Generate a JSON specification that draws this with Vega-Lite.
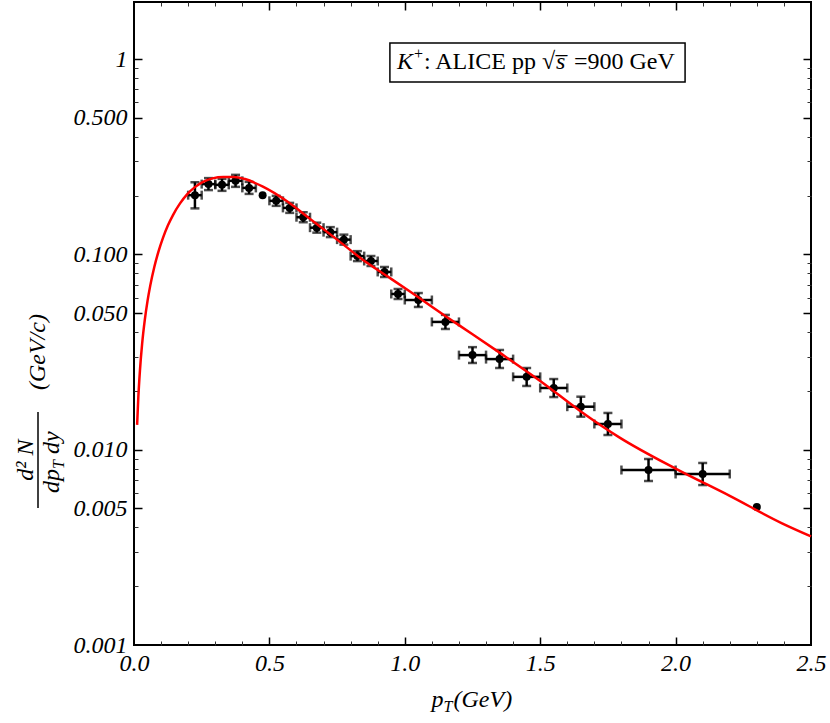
{
  "$schema": "https://vega.github.io/schema/vega-lite/v6.json",
  "width": 677,
  "height": 643,
  "autosize": {"type": "none"},
  "padding": {"left": 134, "top": 2, "right": 19, "bottom": 78},
  "background": "white",
  "config": {
    "view": {"stroke": "black", "strokeWidth": 2},
    "axis": {"grid": false, "domain": false, "title": null}
  },
  "datasets": {
    "pts": [
      {"x": 0.225, "y": 0.201}, {"x": 0.275, "y": 0.229}, {"x": 0.325, "y": 0.227}, {"x": 0.375, "y": 0.238},
      {"x": 0.425, "y": 0.219}, {"x": 0.475, "y": 0.201}, {"x": 0.525, "y": 0.188}, {"x": 0.575, "y": 0.173},
      {"x": 0.625, "y": 0.155}, {"x": 0.675, "y": 0.137}, {"x": 0.725, "y": 0.130}, {"x": 0.775, "y": 0.119},
      {"x": 0.825, "y": 0.098}, {"x": 0.875, "y": 0.0925}, {"x": 0.925, "y": 0.0813}, {"x": 0.975, "y": 0.0627},
      {"x": 1.05, "y": 0.0584}, {"x": 1.15, "y": 0.0451}, {"x": 1.25, "y": 0.0305}, {"x": 1.35, "y": 0.0291},
      {"x": 1.45, "y": 0.0236}, {"x": 1.55, "y": 0.0207}, {"x": 1.65, "y": 0.0166}, {"x": 1.75, "y": 0.01354},
      {"x": 1.9, "y": 0.00787}, {"x": 2.1, "y": 0.00751}, {"x": 2.3, "y": 0.00509}
    ],
    "eb": [
      {"x": 0.225, "y": 0.201, "xlo": 0.2, "xhi": 0.25, "ylo": 0.172, "yhi": 0.234},
      {"x": 0.275, "y": 0.229, "xlo": 0.25, "xhi": 0.3, "ylo": 0.2134, "yhi": 0.2458},
      {"x": 0.325, "y": 0.227, "xlo": 0.3, "xhi": 0.35, "ylo": 0.2115, "yhi": 0.2436},
      {"x": 0.375, "y": 0.238, "xlo": 0.35, "xhi": 0.4, "ylo": 0.2217, "yhi": 0.2554},
      {"x": 0.425, "y": 0.219, "xlo": 0.4, "xhi": 0.45, "ylo": 0.204, "yhi": 0.2351},
      {"x": 0.525, "y": 0.188, "xlo": 0.5, "xhi": 0.55, "ylo": 0.1772, "yhi": 0.1994},
      {"x": 0.575, "y": 0.173, "xlo": 0.55, "xhi": 0.6, "ylo": 0.1631, "yhi": 0.1835},
      {"x": 0.625, "y": 0.155, "xlo": 0.6, "xhi": 0.65, "ylo": 0.1461, "yhi": 0.1644},
      {"x": 0.675, "y": 0.137, "xlo": 0.65, "xhi": 0.7, "ylo": 0.1292, "yhi": 0.1453},
      {"x": 0.725, "y": 0.130, "xlo": 0.7, "xhi": 0.75, "ylo": 0.1226, "yhi": 0.1379},
      {"x": 0.775, "y": 0.119, "xlo": 0.75, "xhi": 0.8, "ylo": 0.1122, "yhi": 0.1262},
      {"x": 0.825, "y": 0.098, "xlo": 0.8, "xhi": 0.85, "ylo": 0.0924, "yhi": 0.1039},
      {"x": 0.875, "y": 0.0925, "xlo": 0.85, "xhi": 0.9, "ylo": 0.0872, "yhi": 0.0981},
      {"x": 0.925, "y": 0.0813, "xlo": 0.9, "xhi": 0.95, "ylo": 0.0766, "yhi": 0.0862},
      {"x": 0.975, "y": 0.0627, "xlo": 0.95, "xhi": 1.0, "ylo": 0.0591, "yhi": 0.0665},
      {"x": 1.05, "y": 0.0584, "xlo": 1.0, "xhi": 1.1, "ylo": 0.0538, "yhi": 0.0634},
      {"x": 1.15, "y": 0.0451, "xlo": 1.1, "xhi": 1.2, "ylo": 0.0415, "yhi": 0.049},
      {"x": 1.25, "y": 0.0305, "xlo": 1.2, "xhi": 1.3, "ylo": 0.0278, "yhi": 0.0335},
      {"x": 1.35, "y": 0.0291, "xlo": 1.3, "xhi": 1.4, "ylo": 0.0262, "yhi": 0.0324},
      {"x": 1.45, "y": 0.0236, "xlo": 1.4, "xhi": 1.5, "ylo": 0.0212, "yhi": 0.0262},
      {"x": 1.55, "y": 0.0207, "xlo": 1.5, "xhi": 1.6, "ylo": 0.0186, "yhi": 0.023},
      {"x": 1.65, "y": 0.0166, "xlo": 1.6, "xhi": 1.7, "ylo": 0.01476, "yhi": 0.01868},
      {"x": 1.75, "y": 0.01354, "xlo": 1.7, "xhi": 1.8, "ylo": 0.01189, "yhi": 0.01542},
      {"x": 1.9, "y": 0.00787, "xlo": 1.8, "xhi": 2.0, "ylo": 0.00691, "yhi": 0.00896},
      {"x": 2.1, "y": 0.00751, "xlo": 2.0, "xhi": 2.2, "ylo": 0.00659, "yhi": 0.00855}
    ],
    "curve": [
      {"x": 0.0115, "y": 0.0134}, {"x": 0.016, "y": 0.0186}, {"x": 0.022, "y": 0.0255}, {"x": 0.03, "y": 0.0348},
      {"x": 0.04, "y": 0.0463}, {"x": 0.05, "y": 0.0578}, {"x": 0.06, "y": 0.0692}, {"x": 0.075, "y": 0.0862},
      {"x": 0.09, "y": 0.103}, {"x": 0.107, "y": 0.1215}, {"x": 0.125, "y": 0.1405}, {"x": 0.144, "y": 0.159},
      {"x": 0.17, "y": 0.1825}, {"x": 0.196, "y": 0.203}, {"x": 0.225, "y": 0.221}, {"x": 0.255, "y": 0.235},
      {"x": 0.29, "y": 0.245}, {"x": 0.33, "y": 0.249}, {"x": 0.37, "y": 0.249}, {"x": 0.41, "y": 0.243},
      {"x": 0.476, "y": 0.222}, {"x": 0.565, "y": 0.187}, {"x": 0.65, "y": 0.152}, {"x": 0.75, "y": 0.119},
      {"x": 0.846, "y": 0.0936}, {"x": 0.945, "y": 0.0757}, {"x": 1.019, "y": 0.0645}, {"x": 1.148, "y": 0.0485},
      {"x": 1.25, "y": 0.039}, {"x": 1.35, "y": 0.0314}, {"x": 1.5, "y": 0.0225}, {"x": 1.65, "y": 0.0157},
      {"x": 1.795, "y": 0.0115}, {"x": 2.0, "y": 0.008}, {"x": 2.2, "y": 0.0058}, {"x": 2.393, "y": 0.0042},
      {"x": 2.5, "y": 0.0036}
    ]
  },
  "resolve": {"axis": {"x": "independent", "y": "independent"}},
  "layer": [
    {
      "data": {"name": "eb"},
      "mark": {"type": "rule", "color": "black", "strokeWidth": 2.5},
      "encoding": {
        "x": {"field": "x", "type": "quantitative", "scale": {"domain": [0, 2.5], "nice": false, "zero": false},
              "axis": {"orient": "bottom", "values": [0.5, 1, 1.5, 2], "labels": false, "tickSize": -8, "tickWidth": 1.5, "tickColor": "black"}},
        "y": {"field": "ylo", "type": "quantitative", "scale": {"type": "log", "domain": [0.001, 1.96], "nice": false},
              "axis": {"orient": "left", "values": [0.005, 0.01, 0.05, 0.1, 0.5, 1], "labels": false, "tickSize": -8, "tickWidth": 1.5, "tickColor": "black"}},
        "y2": {"field": "yhi"}
      }
    },
    {
      "data": {"name": "eb"},
      "mark": {"type": "tick", "orient": "horizontal", "color": "black", "size": 9, "thickness": 2.5},
      "encoding": {
        "x": {"field": "x", "type": "quantitative", "scale": {"domain": [0, 2.5], "nice": false, "zero": false},
              "axis": {"orient": "bottom", "values": [0.1, 0.2, 0.3, 0.4, 0.6, 0.7, 0.8, 0.9, 1.1, 1.2, 1.3, 1.4, 1.6, 1.7, 1.8, 1.9, 2.1, 2.2, 2.3, 2.4], "labels": false, "tickSize": -4, "tickWidth": 1, "tickColor": "#333"}},
        "y": {"field": "ylo", "type": "quantitative", "scale": {"type": "log", "domain": [0.001, 1.96], "nice": false},
              "axis": {"orient": "left", "values": [0.002, 0.003, 0.004, 0.006, 0.007, 0.008, 0.009, 0.02, 0.03, 0.04, 0.06, 0.07, 0.08, 0.09, 0.2, 0.3, 0.4, 0.6, 0.7, 0.8, 0.9], "labels": false, "tickSize": -4, "tickWidth": 1, "tickColor": "#333"}}
      }
    },
    {
      "data": {"name": "eb"},
      "mark": {"type": "tick", "orient": "horizontal", "color": "black", "size": 9, "thickness": 2.5},
      "encoding": {
        "x": {"field": "x", "type": "quantitative", "scale": {"domain": [0, 2.5], "nice": false, "zero": false},
              "axis": {"orient": "top", "values": [0.5, 1, 1.5, 2], "labels": false, "tickSize": -8, "tickWidth": 1.5, "tickColor": "black"}},
        "y": {"field": "yhi", "type": "quantitative", "scale": {"type": "log", "domain": [0.001, 1.96], "nice": false},
              "axis": {"orient": "right", "values": [0.005, 0.01, 0.05, 0.1, 0.5, 1], "labels": false, "tickSize": -8, "tickWidth": 1.5, "tickColor": "black"}}
      }
    },
    {
      "data": {"name": "eb"},
      "mark": {"type": "rule", "color": "black", "strokeWidth": 2.5},
      "encoding": {
        "x": {"field": "xlo", "type": "quantitative", "scale": {"domain": [0, 2.5], "nice": false, "zero": false},
              "axis": {"orient": "top", "values": [0.1, 0.2, 0.3, 0.4, 0.6, 0.7, 0.8, 0.9, 1.1, 1.2, 1.3, 1.4, 1.6, 1.7, 1.8, 1.9, 2.1, 2.2, 2.3, 2.4], "labels": false, "tickSize": -4, "tickWidth": 1, "tickColor": "#333"}},
        "x2": {"field": "xhi"},
        "y": {"field": "y", "type": "quantitative", "scale": {"type": "log", "domain": [0.001, 1.96], "nice": false},
              "axis": {"orient": "right", "values": [0.002, 0.003, 0.004, 0.006, 0.007, 0.008, 0.009, 0.02, 0.03, 0.04, 0.06, 0.07, 0.08, 0.09, 0.2, 0.3, 0.4, 0.6, 0.7, 0.8, 0.9], "labels": false, "tickSize": -4, "tickWidth": 1, "tickColor": "#333"}}
      }
    },
    {
      "data": {"name": "eb"},
      "mark": {"type": "tick", "orient": "vertical", "color": "black", "size": 9, "thickness": 2.5},
      "encoding": {
        "x": {"field": "xlo", "type": "quantitative", "scale": {"domain": [0, 2.5], "nice": false, "zero": false}, "axis": null},
        "y": {"field": "y", "type": "quantitative", "scale": {"type": "log", "domain": [0.001, 1.96], "nice": false}, "axis": null}
      }
    },
    {
      "data": {"name": "eb"},
      "mark": {"type": "tick", "orient": "vertical", "color": "black", "size": 9, "thickness": 2.5},
      "encoding": {
        "x": {"field": "xhi", "type": "quantitative", "scale": {"domain": [0, 2.5], "nice": false, "zero": false}, "axis": null},
        "y": {"field": "y", "type": "quantitative", "scale": {"type": "log", "domain": [0.001, 1.96], "nice": false}, "axis": null}
      }
    },
    {
      "data": {"name": "pts"},
      "mark": {"type": "circle", "color": "black", "opacity": 1, "size": 64},
      "encoding": {
        "x": {"field": "x", "type": "quantitative", "scale": {"domain": [0, 2.5], "nice": false, "zero": false}, "axis": null},
        "y": {"field": "y", "type": "quantitative", "scale": {"type": "log", "domain": [0.001, 1.96], "nice": false}, "axis": null}
      }
    },
    {
      "data": {"values": [{}]},
      "mark": {"type": "rect", "fill": "white", "stroke": "black", "strokeWidth": 1.5},
      "encoding": {
        "x": {"datum": 0.945, "type": "quantitative", "axis": null},
        "x2": {"datum": 2.035},
        "y": {"datum": 1.209, "type": "quantitative", "axis": null},
        "y2": {"datum": 0.764}
      }
    },
    {
      "data": {"values": [{"label": "K"}]},
      "mark": {"type": "text", "font": "Liberation Serif", "fontStyle": "italic", "fontSize": 24, "color": "black", "align": "left", "baseline": "middle", "dx": 0},
      "encoding": {
        "x": {"datum": 0.971, "type": "quantitative", "axis": null},
        "y": {"datum": 0.966, "type": "quantitative", "axis": null},
        "text": {"field": "label"}
      }
    },
    {
      "data": {"values": [{"label": "+"}]},
      "mark": {"type": "text", "font": "Liberation Serif", "fontSize": 16, "color": "black", "align": "left", "baseline": "middle", "dx": 17, "dy": -8},
      "encoding": {
        "x": {"datum": 0.971, "type": "quantitative", "axis": null},
        "y": {"datum": 0.966, "type": "quantitative", "axis": null},
        "text": {"field": "label"}
      }
    },
    {
      "data": {"values": [{"label": ": ALICE pp √"}]},
      "mark": {"type": "text", "font": "Liberation Serif", "fontSize": 24, "color": "black", "align": "left", "baseline": "middle", "dx": 27},
      "encoding": {
        "x": {"datum": 0.971, "type": "quantitative", "axis": null},
        "y": {"datum": 0.966, "type": "quantitative", "axis": null},
        "text": {"field": "label"}
      }
    },
    {
      "data": {"values": [{"label": "s̅"}]},
      "mark": {"type": "text", "font": "Liberation Serif", "fontStyle": "italic", "fontSize": 24, "color": "black", "align": "left", "baseline": "middle", "dx": 159},
      "encoding": {
        "x": {"datum": 0.971, "type": "quantitative", "axis": null},
        "y": {"datum": 0.966, "type": "quantitative", "axis": null},
        "text": {"field": "label"}
      }
    },
    {
      "data": {"values": [{"label": "=900 GeV"}]},
      "mark": {"type": "text", "font": "Liberation Serif", "fontSize": 24, "color": "black", "align": "left", "baseline": "middle", "dx": 177},
      "encoding": {
        "x": {"datum": 0.971, "type": "quantitative", "axis": null},
        "y": {"datum": 0.966, "type": "quantitative", "axis": null},
        "text": {"field": "label"}
      }
    },
    {
      "data": {"values": [{"label": "p"}]},
      "mark": {"type": "text", "font": "Liberation Serif", "fontStyle": "italic", "fontSize": 24, "color": "black", "align": "left", "baseline": "alphabetic", "dx": -41},
      "encoding": {
        "x": {"datum": 1.25, "type": "quantitative", "axis": null},
        "y": {"datum": 0.0004815, "type": "quantitative", "axis": null},
        "text": {"field": "label"}
      }
    },
    {
      "data": {"values": [{"label": "T"}]},
      "mark": {"type": "text", "font": "Liberation Serif", "fontStyle": "italic", "fontSize": 16, "color": "black", "align": "left", "baseline": "alphabetic", "dx": -29, "dy": 5},
      "encoding": {
        "x": {"datum": 1.25, "type": "quantitative", "axis": null},
        "y": {"datum": 0.0004815, "type": "quantitative", "axis": null},
        "text": {"field": "label"}
      }
    },
    {
      "data": {"values": [{"label": "(GeV)"}]},
      "mark": {"type": "text", "font": "Liberation Serif", "fontStyle": "italic", "fontSize": 24, "color": "black", "align": "left", "baseline": "alphabetic", "dx": -19},
      "encoding": {
        "x": {"datum": 1.25, "type": "quantitative", "axis": null},
        "y": {"datum": 0.0004815, "type": "quantitative", "axis": null},
        "text": {"field": "label"}
      }
    },
    {
      "data": {"values": [{"label": "d² N"}]},
      "mark": {"type": "text", "font": "Liberation Serif", "fontStyle": "italic", "fontSize": 24, "color": "black", "align": "center", "baseline": "alphabetic", "angle": 270, "dy": -5},
      "encoding": {
        "x": {"datum": -0.3545, "type": "quantitative", "axis": null},
        "y": {"datum": 0.00885, "type": "quantitative", "axis": null},
        "text": {"field": "label"}
      }
    },
    {
      "data": {"values": [{}]},
      "mark": {"type": "rule", "color": "black", "strokeWidth": 1.5},
      "encoding": {
        "x": {"datum": -0.3545, "type": "quantitative", "axis": null},
        "y": {"datum": 0.00503, "type": "quantitative", "axis": null},
        "y2": {"datum": 0.0156}
      }
    },
    {
      "data": {"values": [{"label": "dp"}]},
      "mark": {"type": "text", "font": "Liberation Serif", "fontStyle": "italic", "fontSize": 24, "color": "black", "align": "left", "baseline": "alphabetic", "angle": 270, "dx": -33, "dy": 21},
      "encoding": {
        "x": {"datum": -0.3545, "type": "quantitative", "axis": null},
        "y": {"datum": 0.00885, "type": "quantitative", "axis": null},
        "text": {"field": "label"}
      }
    },
    {
      "data": {"values": [{"label": "T"}]},
      "mark": {"type": "text", "font": "Liberation Serif", "fontStyle": "italic", "fontSize": 16, "color": "black", "align": "left", "baseline": "alphabetic", "angle": 270, "dx": -9, "dy": 26},
      "encoding": {
        "x": {"datum": -0.3545, "type": "quantitative", "axis": null},
        "y": {"datum": 0.00885, "type": "quantitative", "axis": null},
        "text": {"field": "label"}
      }
    },
    {
      "data": {"values": [{"label": "dy"}]},
      "mark": {"type": "text", "font": "Liberation Serif", "fontStyle": "italic", "fontSize": 24, "color": "black", "align": "left", "baseline": "alphabetic", "angle": 270, "dx": 6, "dy": 21},
      "encoding": {
        "x": {"datum": -0.3545, "type": "quantitative", "axis": null},
        "y": {"datum": 0.00885, "type": "quantitative", "axis": null},
        "text": {"field": "label"}
      }
    },
    {
      "data": {"values": [{"label": "(GeV/c)"}]},
      "mark": {"type": "text", "font": "Liberation Serif", "fontStyle": "italic", "fontSize": 24, "color": "black", "align": "center", "baseline": "middle", "angle": 270, "dx": 108, "dy": 0},
      "encoding": {
        "x": {"datum": -0.3545, "type": "quantitative", "axis": null},
        "y": {"datum": 0.00885, "type": "quantitative", "axis": null},
        "text": {"field": "label"}
      }
    },
    {
      "data": {"name": "curve"},
      "mark": {"type": "line", "color": "#ff0000", "strokeWidth": 2.5, "interpolate": "monotone"},
      "encoding": {
        "x": {"field": "x", "type": "quantitative", "scale": {"domain": [0, 2.5], "nice": false, "zero": false},
              "axis": {"orient": "bottom", "values": [0, 0.5, 1, 1.5, 2, 2.5], "format": ".1f", "ticks": false, "labelPadding": 6, "labelFlush": false, "labelOverlap": false,
                       "labelFont": "Liberation Serif", "labelFontStyle": "italic", "labelFontSize": 24, "labelColor": "black"}},
        "y": {"field": "y", "type": "quantitative", "scale": {"type": "log", "domain": [0.001, 1.96], "nice": false},
              "axis": {"orient": "left", "values": [0.001, 0.005, 0.01, 0.05, 0.1, 0.5, 1], "labelExpr": "datum.value == 1 ? '1' : format(datum.value, '.3f')", "ticks": false, "labelPadding": 7, "labelFlush": false, "labelOverlap": false,
                       "labelFont": "Liberation Serif", "labelFontStyle": "italic", "labelFontSize": 24, "labelColor": "black"}}
      }
    }
  ]
}
